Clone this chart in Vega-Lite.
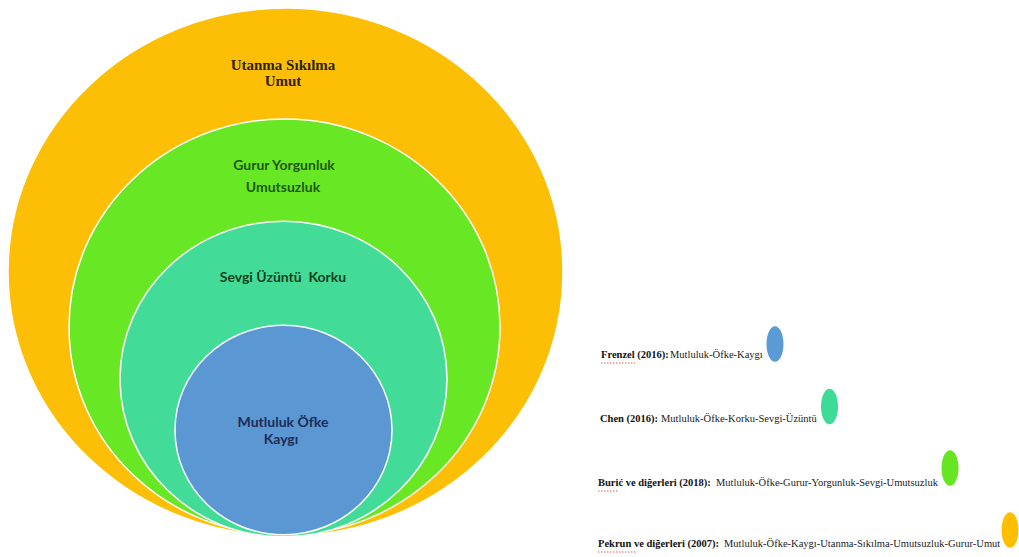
{
  "$schema": "https://vega.github.io/schema/vega-lite/v6.json",
  "width": 1019,
  "height": 557,
  "padding": 0,
  "autosize": {"type": "none"},
  "background": "white",
  "config": {"view": {"stroke": null}},
  "datasets": {
    "outer": [
      {"set": "Pekrun", "cx": 285.5, "cy": 272, "rx": 277.5}
    ],
    "rings": [
      {"set": "Burić", "cx": 284.5, "cy": 327, "rx": 215.5},
      {"set": "Chen", "cx": 283.5, "cy": 379, "rx": 163.5},
      {"set": "Frenzel", "cx": 283.5, "cy": 430, "rx": 108.5}
    ],
    "keys": [
      {"set": "Frenzel", "kx": 775, "ky": 344, "rx": 8.5},
      {"set": "Chen", "kx": 829.5, "ky": 406.5, "rx": 8.5},
      {"set": "Burić", "kx": 950, "ky": 468, "rx": 8.5},
      {"set": "Pekrun", "kx": 1010, "ky": 530, "rx": 8.5}
    ],
    "ringLabels": [
      {"set": "Pekrun", "line": "Utanma Sıkılma", "lx": 283, "ly": 65},
      {"set": "Pekrun", "line": "Umut", "lx": 283, "ly": 81},
      {"set": "Burić", "line": "Gurur Yorgunluk", "lx": 284, "ly": 166},
      {"set": "Burić", "line": "Umutsuzluk", "lx": 283, "ly": 188},
      {"set": "Chen", "line": "Sevgi Üzüntü\u00a0 Korku", "lx": 283, "ly": 278},
      {"set": "Frenzel", "line": "Mutluluk Öfke", "lx": 283, "ly": 423},
      {"set": "Frenzel", "line": "Kaygı", "lx": 281, "ly": 440}
    ],
    "entries": [
      {"set": "Frenzel", "bold": "Frenzel (2016):", "rest": "Mutluluk-Öfke-Kaygı", "bx": 601, "tx": 670, "ty": 358},
      {"set": "Chen", "bold": "Chen (2016):", "rest": "Mutluluk-Öfke-Korku-Sevgi-Üzüntü", "bx": 600, "tx": 661, "ty": 422},
      {"set": "Burić", "bold": "Burić ve diğerleri (2018):", "rest": "Mutluluk-Öfke-Gurur-Yorgunluk-Sevgi-Umutsuzluk", "bx": 598, "tx": 716, "ty": 486},
      {"set": "Pekrun", "bold": "Pekrun ve diğerleri (2007):", "rest": "Mutluluk-Öfke-Kaygı-Utanma-Sıkılma-Umutsuzluk-Gurur-Umut", "bx": 598, "tx": 724, "ty": 547}
    ],
    "squiggles": [
      {"word": "Frenzel", "sx": 601, "sx2": 635, "sy": 363},
      {"word": "Burić", "sx": 598, "sx2": 619, "sy": 491},
      {"word": "Pekrun", "sx": 598, "sx2": 636, "sy": 552}
    ]
  },
  "resolve": {"scale": {"color": "independent"}},
  "layer": [
    {
      "data": {"name": "outer"},
      "mark": {
        "type": "point",
        "filled": true,
        "opacity": 1,
        "shape": "M1,0C1,0.525,0.5523,0.951,0,0.951C-0.5523,0.951,-1,0.525,-1,0C-1,-0.525,-0.5523,-0.951,0,-0.951C0.5523,-0.951,1,-0.525,1,0Z",
        "stroke": "white",
        "strokeWidth": 1.5
      },
      "encoding": {
        "x": {"field": "cx", "type": "quantitative", "scale": {"domain": [0, 1019], "nice": false, "zero": false}, "axis": null},
        "y": {"field": "cy", "type": "quantitative", "scale": {"domain": [0, 557], "nice": false, "zero": false, "reverse": true}, "axis": null},
        "size": {"field": "rx", "type": "quantitative", "scale": {"type": "pow", "exponent": 2, "domain": [0, 300], "range": [0, 360000]}, "legend": null},
        "color": {"field": "set", "type": "nominal", "scale": {"domain": ["Pekrun"], "range": ["#FDBF05"]}, "legend": null}
      }
    },
    {
      "data": {"name": "rings"},
      "mark": {
        "type": "point",
        "filled": true,
        "opacity": 1,
        "shape": "M1,0C1,0.533,0.5523,0.965,0,0.965C-0.5523,0.965,-1,0.533,-1,0C-1,-0.533,-0.5523,-0.965,0,-0.965C0.5523,-0.965,1,-0.533,1,0Z",
        "stroke": "white",
        "strokeWidth": 1.5
      },
      "encoding": {
        "x": {"field": "cx", "type": "quantitative", "axis": null},
        "y": {"field": "cy", "type": "quantitative", "axis": null},
        "size": {"field": "rx", "type": "quantitative", "legend": null},
        "color": {"field": "set", "type": "nominal", "scale": {"domain": ["Burić", "Chen", "Frenzel"], "range": ["#68E724", "#42DC98", "#5B97D3"]}, "legend": null},
        "order": {"field": "rx", "type": "quantitative", "sort": "descending"}
      }
    },
    {
      "data": {"name": "keys"},
      "mark": {
        "type": "point",
        "filled": true,
        "opacity": 1,
        "shape": "M1,0C1,1.16,0.5523,2.1,0,2.1C-0.5523,2.1,-1,1.16,-1,0C-1,-1.16,-0.5523,-2.1,0,-2.1C0.5523,-2.1,1,-1.16,1,0Z",
        "strokeWidth": 0
      },
      "encoding": {
        "x": {"field": "kx", "type": "quantitative", "axis": null},
        "y": {"field": "ky", "type": "quantitative", "axis": null},
        "size": {"field": "rx", "type": "quantitative", "legend": null},
        "color": {"field": "set", "type": "nominal", "scale": {"domain": ["Pekrun", "Burić", "Chen", "Frenzel"], "range": ["#FFBF00", "#66E622", "#3EDB97", "#5B9BD5"]}, "legend": null}
      }
    },
    {
      "data": {"name": "ringLabels"},
      "transform": [{"filter": "datum.set === 'Pekrun'"}],
      "mark": {"type": "text", "font": "Liberation Serif", "fontWeight": "bold", "fontSize": 15, "align": "center", "baseline": "middle"},
      "encoding": {
        "x": {"field": "lx", "type": "quantitative", "axis": null},
        "y": {"field": "ly", "type": "quantitative", "axis": null},
        "text": {"field": "line"},
        "color": {"field": "set", "type": "nominal", "scale": {"domain": ["Pekrun"], "range": ["#2E2300"]}, "legend": null}
      }
    },
    {
      "data": {"name": "ringLabels"},
      "transform": [{"filter": "datum.set !== 'Pekrun'"}],
      "mark": {"type": "text", "font": "Lato", "fontWeight": "bold", "fontSize": 14, "align": "center", "baseline": "middle"},
      "encoding": {
        "x": {"field": "lx", "type": "quantitative", "axis": null},
        "y": {"field": "ly", "type": "quantitative", "axis": null},
        "text": {"field": "line"},
        "color": {"field": "set", "type": "nominal", "scale": {"domain": ["Burić", "Chen", "Frenzel"], "range": ["#1F5A0C", "#153F1F", "#1B2C5A"]}, "legend": null}
      }
    },
    {
      "data": {"name": "entries"},
      "mark": {"type": "text", "font": "Liberation Serif", "fontWeight": "bold", "fontSize": 10.5, "align": "left", "baseline": "alphabetic", "color": "#111111"},
      "encoding": {
        "x": {"field": "bx", "type": "quantitative", "axis": null},
        "y": {"field": "ty", "type": "quantitative", "axis": null},
        "text": {"field": "bold"}
      }
    },
    {
      "data": {"name": "entries"},
      "mark": {"type": "text", "font": "Liberation Serif", "fontSize": 10.5, "align": "left", "baseline": "alphabetic", "color": "#222222"},
      "encoding": {
        "x": {"field": "tx", "type": "quantitative", "axis": null},
        "y": {"field": "ty", "type": "quantitative", "axis": null},
        "text": {"field": "rest"}
      }
    },
    {
      "data": {"name": "squiggles"},
      "mark": {"type": "rule", "color": "#E03030", "strokeWidth": 1, "strokeDash": [1.5, 1.5], "opacity": 0.8},
      "encoding": {
        "x": {"field": "sx", "type": "quantitative", "axis": null},
        "x2": {"field": "sx2"},
        "y": {"field": "sy", "type": "quantitative", "axis": null}
      }
    }
  ]
}
